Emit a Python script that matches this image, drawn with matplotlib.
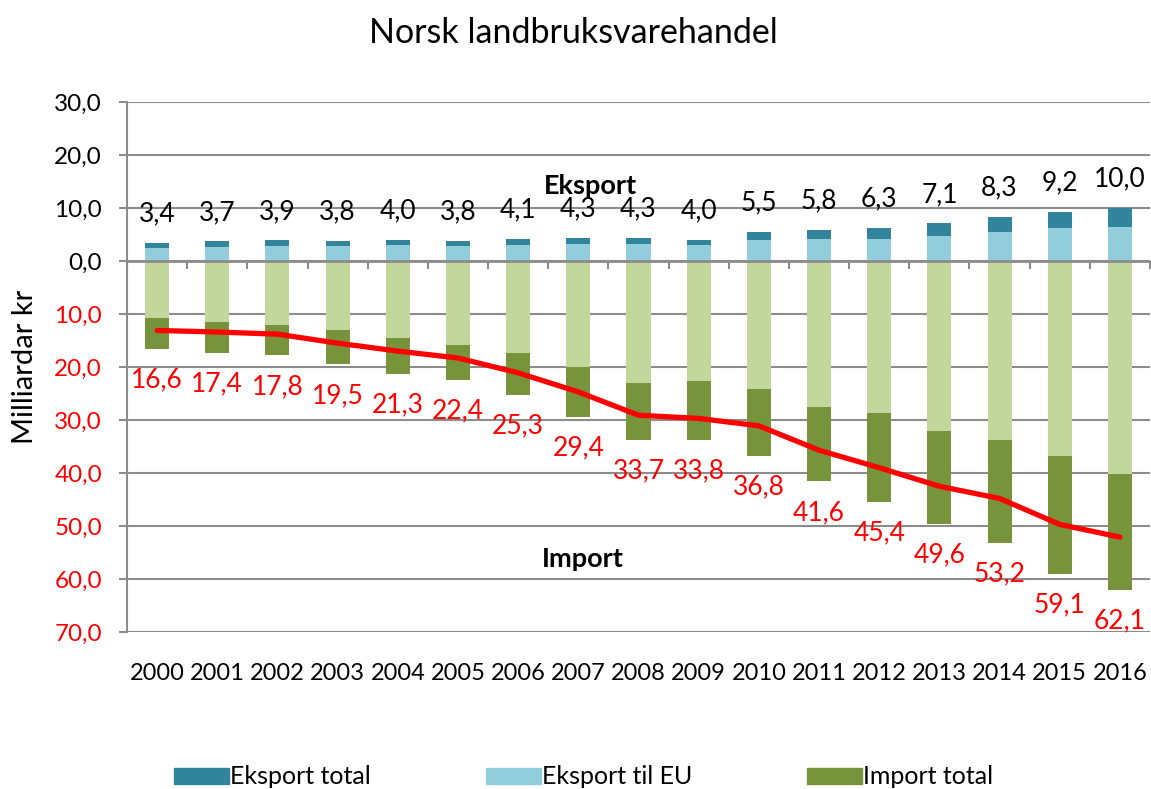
import matplotlib
matplotlib.use('Agg')
import matplotlib.pyplot as plt
from matplotlib.patches import Patch
import numpy as np

years = [str(y) for y in range(2000, 2017)]
eksport_total = [3.4, 3.7, 3.9, 3.8, 4.0, 3.8, 4.1, 4.3, 4.3, 4.0, 5.5, 5.8, 6.3, 7.1, 8.3, 9.2, 10.0]
eksport_eu = [2.5, 2.6, 2.9, 2.9, 3.0, 2.9, 3.1, 3.25, 3.3, 3.05, 3.9, 4.1, 4.2, 4.8, 5.4, 6.3, 6.5]
import_total = [16.6, 17.4, 17.8, 19.5, 21.3, 22.4, 25.3, 29.4, 33.7, 33.8, 36.8, 41.6, 45.4, 49.6, 53.2, 59.1, 62.1]
import_eu = [10.75, 11.5, 12.0, 13.1, 14.5, 15.8, 17.4, 20.0, 23.1, 22.6, 24.2, 27.5, 28.7, 32.1, 33.8, 36.7, 40.1]
red_line = [13.1, 13.4, 13.8, 15.5, 17.0, 18.3, 21.1, 24.7, 29.1, 29.7, 31.1, 35.7, 39.0, 42.5, 44.8, 49.7, 52.1]
yticks = [30, 20, 10, 0, -10, -20, -30, -40, -50, -60, -70]

FONT = ['Lato', 'DejaVu Sans']
plt.rcParams['font.family'] = FONT

C_EXP = '#31849B'
C_EXP_EU = '#92CDDC'
C_IMP = '#77933C'
C_IMP_EU = '#C3D69B'
GRID = '#8C8C8C'

fig = plt.figure(figsize=(11.51, 7.89), dpi=100)
ax = fig.add_axes([127/1151, 1 - 632/789, (1150 - 127)/1151, 530/789])

x = np.arange(len(years))
imp_tot_neg = -np.array(import_total)
imp_eu_neg = -np.array(import_eu)
w = 0.4

ax.bar(x, eksport_total, w, color=C_EXP, zorder=3, linewidth=0)
ax.bar(x, eksport_eu, w, color=C_EXP_EU, zorder=4, linewidth=0)
ax.bar(x, imp_tot_neg, w, color=C_IMP, zorder=3, linewidth=0)
ax.bar(x, imp_eu_neg, w, color=C_IMP_EU, zorder=4, linewidth=0)
ax.plot(x, -np.array(red_line), color='#FF0000', lw=3.8, zorder=6, solid_capstyle='round')

for i in range(len(years)):
    ax.annotate(f"{eksport_total[i]:.1f}".replace('.', ','), (x[i], eksport_total[i]),
                xytext=(0, 29), textcoords='offset pixels', ha='center', va='center',
                fontsize=19, color='black', zorder=7)
    ax.annotate(f"{import_total[i]:.1f}".replace('.', ','), (x[i], -import_total[i]),
                xytext=(0, -31), textcoords='offset pixels', ha='center', va='center',
                fontsize=19, color='#FF0000', zorder=7)

ax.text(7.2, 14.2, 'Eksport', ha='center', va='center', fontsize=19.5, fontweight='bold', zorder=7)
ax.text(7.07, -56.2, 'Import', ha='center', va='center', fontsize=19.5, fontweight='bold', zorder=7)

ax.set_xlim(-0.5, len(years) - 0.5)
ax.set_ylim(-70, 30)
ax.set_yticks(yticks)
ax.set_yticklabels([f"{abs(v):.1f}".replace('.', ',') for v in yticks], fontsize=17.5)
for lab, v in zip(ax.get_yticklabels(), yticks):
    lab.set_color('#FF0000' if v < 0 else 'black')
ax.tick_params(axis='y', length=6, width=1.5, color=GRID, pad=12)
ax.grid(axis='y', color=GRID, lw=1.5, zorder=0)
ax.axhline(0, color=GRID, lw=2, zorder=5)

for s in ['top', 'right', 'bottom']:
    ax.spines[s].set_visible(False)
ax.spines['left'].set_color(GRID)
ax.spines['left'].set_linewidth(1.5)

ax.set_xticks(x)
ax.set_xticklabels(years, fontsize=17)
ax.tick_params(axis='x', length=0, pad=22)

sec = ax.secondary_xaxis(0, transform=ax.transData)
sec.set_xticks(np.arange(len(years) + 1) - 0.5)
sec.set_xticklabels([])
sec.tick_params(axis='x', length=6, width=1.5, color=GRID, direction='out')
sec.spines['bottom'].set_visible(False)

ax.set_ylabel('Milliardar kr', fontsize=21, va='center')
ax.yaxis.set_label_coords(-(127 - 25) / 1023, 0.5)

fig.text(0.4985, 1 - 33/789, 'Norsk landbruksvarehandel', ha='center', va='center', fontsize=24.5)

handles = [Patch(color=C_EXP), Patch(color=C_EXP_EU), Patch(color=C_IMP)]
labels = ['Eksport total', 'Eksport til EU', 'Import total']
fig.legend(handles, labels, loc='center', bbox_to_anchor=(0.507, 1 - 777/789), ncol=3,
           frameon=False, prop={'size': 18}, handlelength=2.2,
           handleheight=0.6, handletextpad=0.05, columnspacing=4.6)

fig.savefig('out.png', dpi=100)
